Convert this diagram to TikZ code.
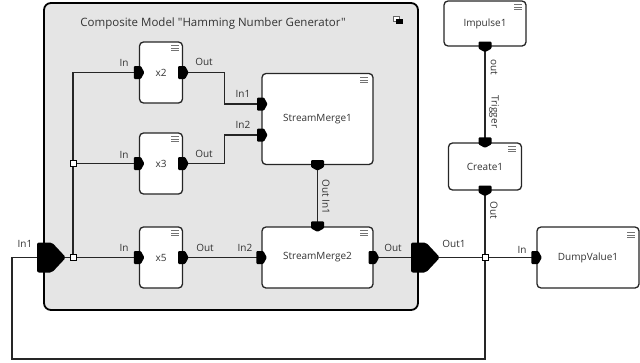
\documentclass[tikz,border=0pt]{standalone}
\usepackage{fontspec}
\setmainfont{Open Sans}[Ligatures=TeXOff]
\begin{document}
\begin{tikzpicture}[x=1pt,y=-1pt,
  box/.style={draw=black!85,line width=1.3pt,fill=white,rounded corners=4pt,inner sep=0pt,font=\fontsize{10}{12}\selectfont,text=black!80},
  wire/.style={draw=black!85,line width=1.1pt},
  junc/.style={draw=black,fill=white,line width=1pt,minimum size=6pt,inner sep=0pt,rectangle},
  lbl/.style={font=\fontsize{10}{12}\selectfont,text=black!80,inner sep=0pt},
  portfill/.style={fill=black,rounded corners=1pt}]
\useasboundingbox (0,0) rectangle (640,362);
\newcommand\myRport[1]{\fill[portfill,shift={(#1)}] (-5,-6.5) -- (2,-6.5) -- (5.5,0) -- (2,6.5) -- (-5,6.5) -- cycle;}
\newcommand\myDport[1]{\fill[portfill,shift={(#1)}] (-6.5,-5) -- (6.5,-5) -- (6.5,2) -- (0,5.5) -- (-6.5,2) -- cycle;}
\newcommand\myBigport[1]{\fill[portfill,rounded corners=2pt,shift={(#1)}] (-7,-15) -- (8,-15) -- (22,0) -- (8,15) -- (-7,15) -- cycle;}
\newcommand\myMenu[1]{\draw[black!55,line width=0.8pt,shift={(#1)}] (-4,-2.5) -- (4,-2.5) (-4,0) -- (4,0) (-4,2.5) -- (4,2.5);}
% composite
\node[draw=black,line width=1.8pt,fill=black!10,rounded corners=7pt,minimum width=374pt,minimum height=307pt,inner sep=0pt] (comp) at (231,156.5) {};
\node[lbl,font=\fontsize{11.5}{13}\selectfont] (title) at (213,24) {Composite Model "Hamming Number Generator"};
\draw[black!60,line width=0.7pt,fill=white] (393,16) rectangle (399,21);
\fill[black] (396,19) rectangle (403,24);
% boxes
\node[box,minimum width=43pt,minimum height=61pt] (x2) at (161,72.5) {x2};
\node[box,minimum width=43pt,minimum height=61pt] (x3) at (161,163.5) {x3};
\node[box,minimum width=43pt,minimum height=61pt] (x5) at (161,257.5) {x5};
\node[box,minimum width=111pt,minimum height=91pt] (sm1) at (317.5,119) {StreamMerge1};
\node[box,minimum width=111pt,minimum height=61pt] (sm2) at (317.5,257.5) {StreamMerge2};
\node[box,minimum width=82pt,minimum height=45pt] (imp) at (485,23.5) {Impulse1};
\node[box,minimum width=73pt,minimum height=47pt] (cr) at (485,166.5) {Create1};
\node[box,minimum width=102pt,minimum height=61pt] (dv) at (588,257.5) {DumpValue1};
\myMenu{175,48}\myMenu{175,139}\myMenu{175,233}
\myMenu{364,80}\myMenu{364,233}\myMenu{518,7}\myMenu{512,149}\myMenu{631,235}
% port coordinates
\coordinate (sm1in1) at (262,104);
\coordinate (sm1in2) at (262,135);
\coordinate (cin) at (44,257.5);
\coordinate (cout) at (418,257.5);
\coordinate (c1) at (485,359);
\coordinate (c2) at (12,359);
\node[junc] (j1) at (73,257.5) {};
\node[junc] (j0) at (73,163.5) {};
\node[junc] (j2) at (485,257.5) {};
% wires
\draw[wire] (cin) -- (j1) -- (x5.west);
\draw[wire] (j1) -- (j0) |- (x2.west);
\draw[wire] (j0) -- (x3.west);
\draw[wire] (x2.east) -- ++(41,0) |- (sm1in1);
\draw[wire] (x3.east) -- ++(41,0) |- (sm1in2);
\draw[wire] (x5.east) -- (sm2.west);
\draw[wire] (sm1.south) -- (sm2.north);
\draw[wire] (sm2.east) -- (cout);
\draw[wire] (cout) -- (j2) -- (dv.west);
\draw[wire] (imp.south) -- (cr.north);
\draw[wire] (cr.south) -- (j2) -- (c1) -- (c2) |- (cin);
\node[junc] at (j1) {};
\node[junc] at (j0) {};
\node[junc] at (j2) {};
% ports
\myRport{x2.west}\myRport{x2.east}
\myRport{x3.west}\myRport{x3.east}
\myRport{x5.west}\myRport{x5.east}
\myRport{sm1in1}\myRport{sm1in2}
\myRport{sm2.west}\myRport{sm2.east}
\myRport{dv.west}
\myDport{sm1.south}\myDport{sm2.north}
\myDport{imp.south}\myDport{cr.north}\myDport{cr.south}
\myBigport{cin}\myBigport{cout}
% labels
\node[lbl] (lx2in) at (124,63) {In};
\node[lbl] (lx2out) at (204,62) {Out};
\node[lbl] (lx3in) at (124,155) {In};
\node[lbl] (lx3out) at (204,154) {Out};
\node[lbl] (lx5in) at (124,248) {In};
\node[lbl] (lx5out) at (205,248) {Out};
\node[lbl] (lin1) at (243,94) {In1};
\node[lbl] (lin2) at (243,125) {In2};
\node[lbl] (lsm2in2) at (245,248) {In2};
\node[lbl] (lsm2out) at (393,248) {Out};
\node[lbl,rotate=-90] (loutin1) at (326,197) {Out In1};
\node[lbl] (lcin) at (25,244) {In1};
\node[lbl] (lcout) at (454,244) {Out1};
\node[lbl] (ldvin) at (522,250) {In};
\node[lbl,rotate=-90] (limpout) at (494,67) {out};
\node[lbl,rotate=-90] (ltrig) at (494,112) {Trigger};
\node[lbl,rotate=-90] (lcrout) at (494,210) {Out};
\end{tikzpicture}
\end{document}
